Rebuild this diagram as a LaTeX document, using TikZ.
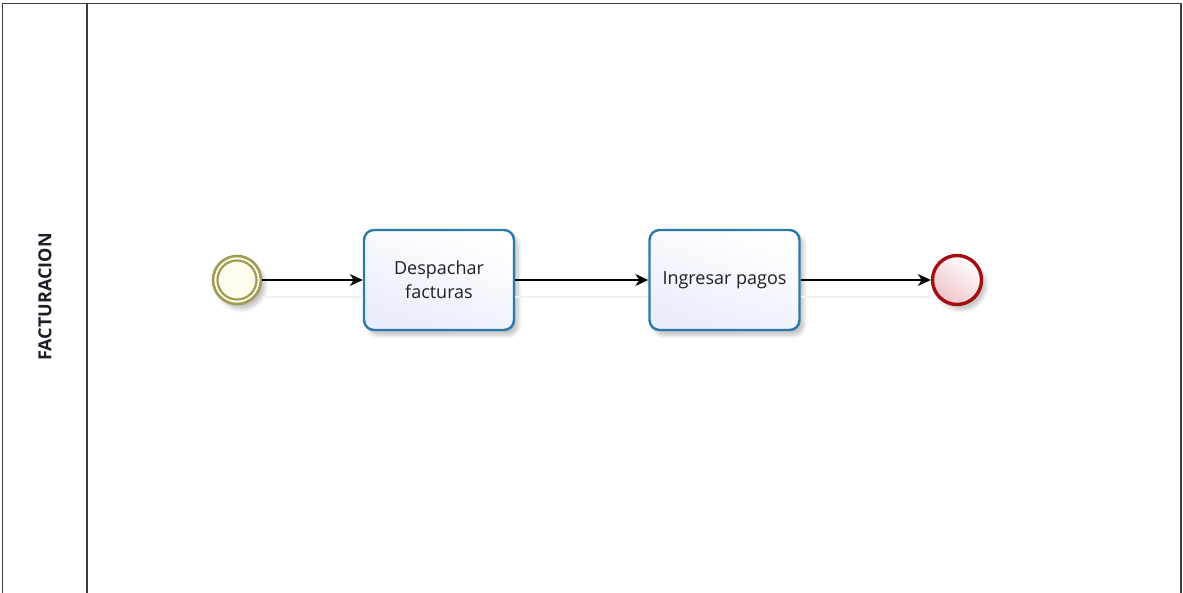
\documentclass[tikz,border=0pt]{standalone}
\usepackage{fontspec}
\setmainfont{Open Sans}
\usetikzlibrary{arrows.meta,shadows.blur,calc}
\definecolor{poolline}{HTML}{3C3C3C}
\definecolor{taskline}{HTML}{2B79A6}
\definecolor{taskfill}{HTML}{E9EDFB}
\definecolor{startline}{HTML}{A09B55}
\definecolor{startfill}{HTML}{FFFCEE}
\definecolor{endline}{HTML}{A30E10}
\definecolor{endfill}{HTML}{EEC3C8}
\definecolor{labeltext}{HTML}{1E1E28}
\tikzset{
  x=1pt, y=-1pt,
  pool/.style={draw=poolline, line width=1.8pt},
  softshadow/.style={blur shadow={shadow xshift=4pt, shadow yshift=-5pt, shadow blur steps=6, shadow blur radius=4pt, shadow opacity=25}},
  taskbox/.style={draw=taskline, line width=2.4pt, rounded corners=10pt,
    minimum width=150pt, minimum height=100pt, top color=white, bottom color=taskfill,
    shading angle=-20, align=center, font=\fontsize{18}{24}\selectfont, text=labeltext, softshadow},
  startev/.style={circle, draw=startline, line width=2.6pt, minimum size=48pt,
    fill=startfill, softshadow},
  endev/.style={circle, draw=endline, line width=3.4pt, minimum size=49pt,
    top color=white, bottom color=endfill, shading angle=-35, softshadow},
  flow/.style={draw=black, line width=1.4pt, -{Stealth[length=13pt, width=12pt, inset=4pt]},
    preaction={draw=black!5, line width=2pt, -, transform canvas={yshift=-17pt}}}
}
\begin{document}
\begin{tikzpicture}
  \useasboundingbox (0,0) rectangle (1183,593);
  % pool frame, open at the bottom edge
  \draw[pool] (2.5,600) -- (2.5,3.5) -- (1181,3.5) -- (1181,600);
  \draw[pool] (87,3.5) -- (87,600);
  \node[rotate=90, font=\bfseries\fontsize{18}{22}\selectfont, text=labeltext] (lane) at (45,297) {FACTURACION};

  % events and tasks
  \node[startev] (start) at (237,280) {};
  \draw[startline, line width=2.2pt] (start.center) circle (19.5pt);
  \node[taskbox] (t1) at (439,280) {Despachar\\facturas};
  \node[taskbox] (t2) at (724.5,280) {Ingresar pagos};
  \node[endev] (end) at (957,280) {};

  % sequence flows
  \draw[flow] (start) -- (t1);
  \draw[flow] (t1) -- (t2);
  \draw[flow] (t2) -- (end);
\end{tikzpicture}
\end{document}
